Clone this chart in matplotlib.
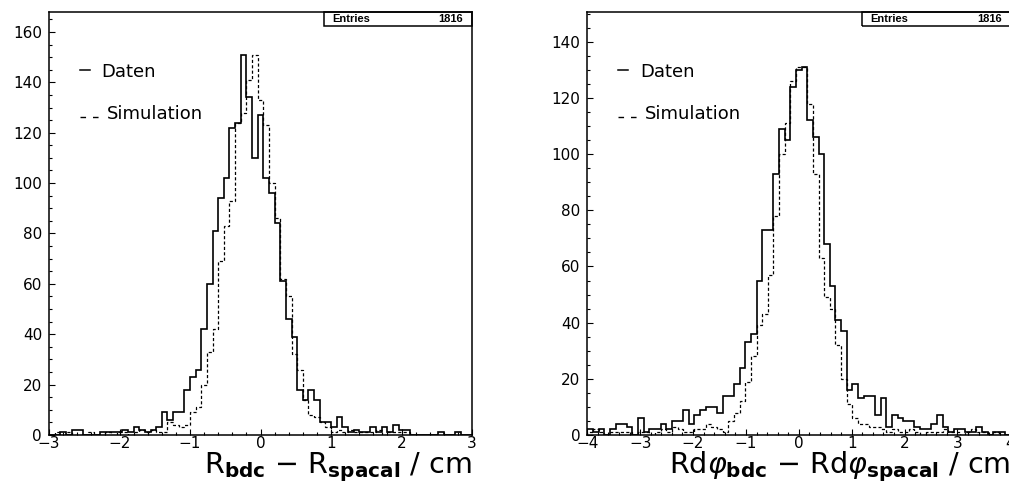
import numpy as np
import matplotlib.pyplot as plt
from matplotlib.patches import Rectangle
from matplotlib.ticker import MultipleLocator

# R residuals: 75 bins from -3 to 3 cm
r_edges = np.linspace(-3, 3, 76)
r_daten = [0, 0, 1, 0, 2, 2, 0, 0, 0, 1, 1, 1, 1, 2, 1, 3, 2, 1, 2, 3,
           9, 6, 9, 9, 18, 23, 26, 42, 60, 81, 94, 102, 122, 124, 151, 134, 110, 127, 102, 96,
           84, 61, 46, 39, 18, 14, 18, 14, 5, 5, 3, 7, 3, 1, 2, 1, 1, 3, 1, 3,
           1, 4, 2, 2, 0, 0, 0, 0, 0, 1, 0, 0, 1, 0, 0]
r_sim = [0, 1, 0, 1, 0, 0, 0, 1, 0, 0, 1, 0, 1, 1, 0, 1, 2, 1, 2, 1,
         1, 5, 4, 3, 4, 9, 11, 20, 33, 42, 69, 83, 93, 124, 128, 141, 151, 133, 123, 100,
         86, 62, 55, 32, 26, 14, 8, 7, 5, 3, 1, 2, 1, 2, 1, 1, 1, 1, 2, 0,
         1, 1, 1, 1, 0, 0, 0, 0, 0, 0, 0, 0, 0, 0, 0]

# R dphi residuals: 75 bins from -4 to 4 cm
phi_edges = np.linspace(-4, 4, 76)
phi_daten = [2, 1, 2, 0, 2, 4, 4, 3, 0, 6, 1, 2, 2, 4, 2, 5, 5, 9, 4, 7,
             9, 10, 10, 8, 14, 14, 18, 24, 33, 36, 55, 73, 73, 93, 109, 105, 124, 130, 131, 112,
             106, 100, 68, 53, 41, 37, 16, 18, 13, 14, 14, 7, 13, 3, 7, 6, 5, 5, 3, 2,
             2, 4, 7, 3, 1, 2, 2, 1, 1, 3, 1, 0, 1, 1, 0]
phi_sim = [1, 2, 1, 0, 1, 1, 1, 1, 0, 1, 1, 0, 1, 2, 1, 3, 2, 1, 1, 2,
           2, 4, 3, 2, 1, 5, 8, 12, 19, 28, 39, 43, 57, 78, 100, 111, 126, 131, 131, 118,
           93, 63, 49, 45, 32, 20, 11, 6, 4, 4, 3, 3, 2, 1, 2, 1, 1, 2, 1, 0,
           1, 1, 1, 2, 1, 1, 0, 1, 2, 1, 1, 0, 1, 0, 0]

entries = 1816

fig = plt.figure(figsize=(10.09, 4.82), dpi=100)

W, H = 1009, 482


def panel(left_px, xlim, ylim, ymajor, edges, daten, sim, xlabel):
    ax = fig.add_axes([left_px / W, (H - 435) / H, 423 / W, 422.7 / H])
    ax.stairs(daten, edges, color='black', lw=1.2)
    ax.stairs(sim, edges, color='black', lw=0.9, ls=(0, (2.5, 1.8)))
    ax.set_xlim(*xlim)
    ax.set_ylim(*ylim)
    for s in ax.spines.values():
        s.set_linewidth(1.1)
    ax.xaxis.set_major_locator(MultipleLocator(1))
    ax.xaxis.set_minor_locator(MultipleLocator(0.2))
    ax.yaxis.set_major_locator(MultipleLocator(ymajor))
    ax.yaxis.set_minor_locator(MultipleLocator(5))
    ax.tick_params(which='both', direction='in', top=False, right=False,
                   labelsize=11, width=0.8)
    ax.tick_params(which='major', length=4)
    ax.tick_params(which='minor', length=2)
    ax.tick_params(axis='x', pad=0.5)
    ax.tick_params(axis='y', pad=5)

    # legend keys and labels
    ax.plot([0.0733, 0.097], [0.8635, 0.8635], transform=ax.transAxes,
            color='black', lw=1.1)
    ax.text(0.1246, 0.8477, 'Daten', transform=ax.transAxes, fontsize=13,
            va='baseline', ha='left')
    ax.plot([0.0733, 0.120], [0.752, 0.752], transform=ax.transAxes,
            color='black', lw=1.0, ls=(0, (4, 5)))
    ax.text(0.137, 0.7476, 'Simulation', transform=ax.transAxes, fontsize=13,
            va='baseline', ha='left')

    # statistics box
    ax.add_patch(Rectangle((0.650, 0.968), 0.350, 0.032, transform=ax.transAxes,
                           fill=False, lw=1.1, clip_on=False))
    ax.text(0.669, 0.984, 'Entries', transform=ax.transAxes, fontsize=8,
            fontweight='bold', family='Liberation Sans', va='center', ha='left')
    ax.text(0.979, 0.984, str(entries), transform=ax.transAxes, fontsize=8,
            fontweight='bold', family='Liberation Sans', va='center', ha='right')

    ax.text(1.0, -0.09, xlabel, transform=ax.transAxes, fontsize=20.6,
            ha='right', va='baseline')
    return ax


panel(49, (-3, 3), (0, 167.8), 20, r_edges, r_daten, r_sim,
      r'R$_{\mathbf{bdc}}$ $-$ R$_{\mathbf{spacal}}$ / cm')
panel(587.3, (-4, 4), (0, 150.5), 20, phi_edges, phi_daten, phi_sim,
      r'Rd$\varphi_{\mathbf{bdc}}$ $-$ Rd$\varphi_{\mathbf{spacal}}$ / cm')

fig.savefig('out.png', dpi=100)
